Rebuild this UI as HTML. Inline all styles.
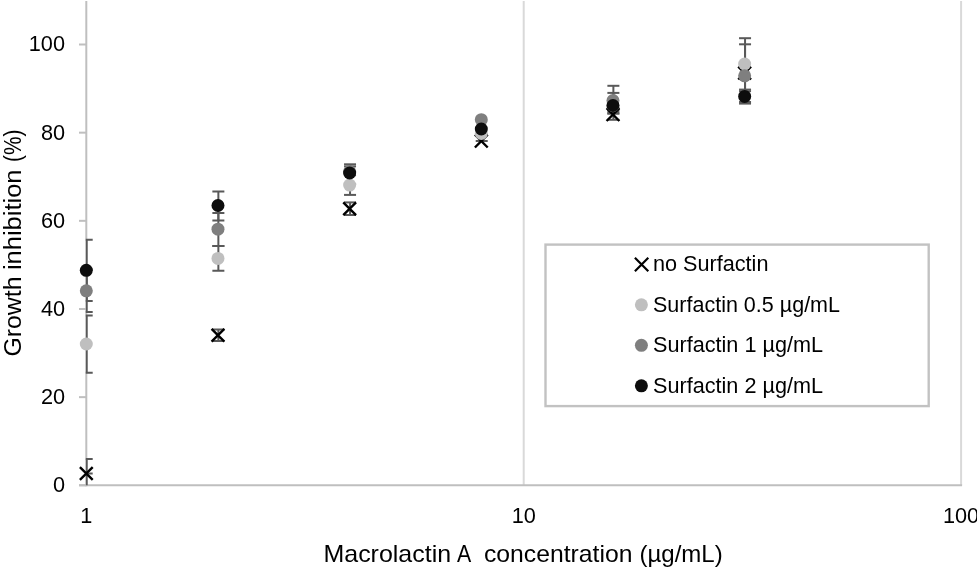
<!DOCTYPE html><html><head><meta charset="utf-8"><style>html,body{margin:0;padding:0;background:#fff;}svg{display:block;will-change:transform;}text{font-family:"Liberation Sans", sans-serif;fill:#000;}</style></head><body>
<svg width="977" height="570" viewBox="0 0 977 570">
<rect width="977" height="570" fill="#fff"/>
<defs><clipPath id="pa"><rect x="85.8" y="0" width="880" height="485.3"/></clipPath></defs>
<line x1="523.70" y1="1" x2="523.70" y2="485.3" stroke="#d9d9d9" stroke-width="2"/>
<line x1="961.10" y1="1" x2="961.10" y2="485.3" stroke="#d9d9d9" stroke-width="2"/>
<line x1="86.3" y1="1" x2="86.3" y2="486.3" stroke="#bfbfbf" stroke-width="2"/>
<line x1="79" y1="485.3" x2="962.10" y2="485.3" stroke="#bfbfbf" stroke-width="2"/>
<line x1="79" y1="485.30" x2="86.3" y2="485.30" stroke="#bfbfbf" stroke-width="2"/>
<line x1="79" y1="397.14" x2="86.3" y2="397.14" stroke="#bfbfbf" stroke-width="2"/>
<line x1="79" y1="308.98" x2="86.3" y2="308.98" stroke="#bfbfbf" stroke-width="2"/>
<line x1="79" y1="220.82" x2="86.3" y2="220.82" stroke="#bfbfbf" stroke-width="2"/>
<line x1="79" y1="132.66" x2="86.3" y2="132.66" stroke="#bfbfbf" stroke-width="2"/>
<line x1="79" y1="44.50" x2="86.3" y2="44.50" stroke="#bfbfbf" stroke-width="2"/>
<text x="65" y="492" font-size="21.7" text-anchor="end">0</text>
<text x="65" y="404" font-size="21.7" text-anchor="end">20</text>
<text x="65" y="316" font-size="21.7" text-anchor="end">40</text>
<text x="65" y="228" font-size="21.7" text-anchor="end">60</text>
<text x="65" y="140" font-size="21.7" text-anchor="end">80</text>
<text x="65" y="51" font-size="21.7" text-anchor="end">100</text>
<text x="86.30" y="523" font-size="21.7" text-anchor="middle">1</text>
<text x="523.70" y="523" font-size="21.7" text-anchor="middle">10</text>
<text x="961.10" y="523" font-size="21.7" text-anchor="middle">100</text>
<text x="323.45" y="561.9" font-size="23.4" textLength="127.69" lengthAdjust="spacingAndGlyphs">Macrolactin</text>
<text x="456.98" y="561.9" font-size="23.4" textLength="14.23" lengthAdjust="spacingAndGlyphs">A</text>
<text x="483.98" y="561.9" font-size="23.4" textLength="148.44" lengthAdjust="spacingAndGlyphs">concentration</text>
<text x="639.45" y="561.9" font-size="23.4" textLength="83.29" lengthAdjust="spacingAndGlyphs">(µg/mL)</text>
<text transform="translate(21.3,356.61) rotate(-90)" font-size="24.8" textLength="80.21" lengthAdjust="spacingAndGlyphs">Growth</text>
<text transform="translate(21.3,270.12) rotate(-90)" font-size="24.8" textLength="100.65" lengthAdjust="spacingAndGlyphs">inhibition</text>
<text transform="translate(21.3,161.88) rotate(-90)" font-size="24.8" textLength="32.38" lengthAdjust="spacingAndGlyphs">(%)</text>
<g clip-path="url(#pa)">
<line x1="86.70" y1="459.0" x2="86.70" y2="486" stroke="#595959" stroke-width="2"/>
<line x1="80.70" y1="459.0" x2="92.70" y2="459.0" stroke="#595959" stroke-width="2"/>
<line x1="80.70" y1="473.5" x2="92.70" y2="473.5" stroke="#595959" stroke-width="2"/>
<line x1="86.70" y1="315.6" x2="86.70" y2="372.8" stroke="#595959" stroke-width="2"/>
<line x1="80.70" y1="315.6" x2="92.70" y2="315.6" stroke="#595959" stroke-width="2"/>
<line x1="80.70" y1="372.8" x2="92.70" y2="372.8" stroke="#595959" stroke-width="2"/>
<line x1="86.70" y1="269.5" x2="86.70" y2="312.1" stroke="#595959" stroke-width="2"/>
<line x1="80.70" y1="269.5" x2="92.70" y2="269.5" stroke="#595959" stroke-width="2"/>
<line x1="80.70" y1="312.1" x2="92.70" y2="312.1" stroke="#595959" stroke-width="2"/>
<line x1="86.70" y1="239.8" x2="86.70" y2="300.9" stroke="#595959" stroke-width="2"/>
<line x1="80.70" y1="239.8" x2="92.70" y2="239.8" stroke="#595959" stroke-width="2"/>
<line x1="80.70" y1="300.9" x2="92.70" y2="300.9" stroke="#595959" stroke-width="2"/>
<line x1="218.37" y1="329.6" x2="218.37" y2="340.9" stroke="#595959" stroke-width="2"/>
<line x1="212.37" y1="329.6" x2="224.37" y2="329.6" stroke="#595959" stroke-width="2"/>
<line x1="212.37" y1="340.9" x2="224.37" y2="340.9" stroke="#595959" stroke-width="2"/>
<line x1="218.37" y1="246.0" x2="218.37" y2="270.8" stroke="#595959" stroke-width="2"/>
<line x1="212.37" y1="246.0" x2="224.37" y2="246.0" stroke="#595959" stroke-width="2"/>
<line x1="212.37" y1="270.8" x2="224.37" y2="270.8" stroke="#595959" stroke-width="2"/>
<line x1="218.37" y1="212.9" x2="218.37" y2="246.0" stroke="#595959" stroke-width="2"/>
<line x1="212.37" y1="212.9" x2="224.37" y2="212.9" stroke="#595959" stroke-width="2"/>
<line x1="212.37" y1="246.0" x2="224.37" y2="246.0" stroke="#595959" stroke-width="2"/>
<line x1="218.37" y1="191.4" x2="218.37" y2="220.6" stroke="#595959" stroke-width="2"/>
<line x1="212.37" y1="191.4" x2="224.37" y2="191.4" stroke="#595959" stroke-width="2"/>
<line x1="212.37" y1="220.6" x2="224.37" y2="220.6" stroke="#595959" stroke-width="2"/>
<line x1="350.04" y1="202.4" x2="350.04" y2="215.0" stroke="#595959" stroke-width="2"/>
<line x1="344.04" y1="202.4" x2="356.04" y2="202.4" stroke="#595959" stroke-width="2"/>
<line x1="344.04" y1="215.0" x2="356.04" y2="215.0" stroke="#595959" stroke-width="2"/>
<line x1="350.04" y1="175.3" x2="350.04" y2="194.9" stroke="#595959" stroke-width="2"/>
<line x1="344.04" y1="175.3" x2="356.04" y2="175.3" stroke="#595959" stroke-width="2"/>
<line x1="344.04" y1="194.9" x2="356.04" y2="194.9" stroke="#595959" stroke-width="2"/>
<line x1="350.04" y1="164.3" x2="350.04" y2="183.0" stroke="#595959" stroke-width="2"/>
<line x1="344.04" y1="164.3" x2="356.04" y2="164.3" stroke="#595959" stroke-width="2"/>
<line x1="344.04" y1="184.2" x2="356.04" y2="184.2" stroke="#595959" stroke-width="2"/>
<line x1="350.04" y1="166.4" x2="350.04" y2="183.0" stroke="#595959" stroke-width="2"/>
<line x1="344.04" y1="166.4" x2="356.04" y2="166.4" stroke="#595959" stroke-width="2"/>
<line x1="344.04" y1="184.2" x2="356.04" y2="184.2" stroke="#595959" stroke-width="2"/>
<line x1="481.71" y1="140.0" x2="481.71" y2="142.0" stroke="#595959" stroke-width="2"/>
<line x1="475.71" y1="141.0" x2="487.71" y2="141.0" stroke="#595959" stroke-width="2"/>
<line x1="481.71" y1="128.0" x2="481.71" y2="135.0" stroke="#595959" stroke-width="2"/>
<line x1="475.71" y1="134.8" x2="487.71" y2="134.8" stroke="#595959" stroke-width="2"/>
<line x1="613.38" y1="109.4" x2="613.38" y2="119.8" stroke="#595959" stroke-width="2"/>
<line x1="607.38" y1="109.4" x2="619.38" y2="109.4" stroke="#595959" stroke-width="2"/>
<line x1="607.38" y1="119.8" x2="619.38" y2="119.8" stroke="#595959" stroke-width="2"/>
<line x1="613.38" y1="85.8" x2="613.38" y2="113.5" stroke="#595959" stroke-width="2"/>
<line x1="607.38" y1="85.8" x2="619.38" y2="85.8" stroke="#595959" stroke-width="2"/>
<line x1="607.38" y1="113.5" x2="619.38" y2="113.5" stroke="#595959" stroke-width="2"/>
<line x1="613.38" y1="92.9" x2="613.38" y2="107.0" stroke="#595959" stroke-width="2"/>
<line x1="607.38" y1="92.9" x2="619.38" y2="92.9" stroke="#595959" stroke-width="2"/>
<line x1="745.05" y1="38.2" x2="745.05" y2="89.6" stroke="#595959" stroke-width="2"/>
<line x1="739.05" y1="38.2" x2="751.05" y2="38.2" stroke="#595959" stroke-width="2"/>
<line x1="739.05" y1="89.6" x2="751.05" y2="89.6" stroke="#595959" stroke-width="2"/>
<line x1="739.05" y1="91.2" x2="751.05" y2="91.2" stroke="#595959" stroke-width="2"/>
<line x1="745.05" y1="44.3" x2="745.05" y2="103.6" stroke="#595959" stroke-width="2"/>
<line x1="739.05" y1="44.3" x2="751.05" y2="44.3" stroke="#595959" stroke-width="2"/>
<line x1="739.05" y1="102.0" x2="751.05" y2="102.0" stroke="#595959" stroke-width="2"/>
<line x1="739.05" y1="103.6" x2="751.05" y2="103.6" stroke="#595959" stroke-width="2"/>
<rect x="607.38" y="107" width="12" height="7.5" fill="#595959"/>
</g>
<path d="M79.90 467.10L92.70 479.90M92.70 467.10L79.90 479.90" stroke="#000" stroke-width="2.4" fill="none"/>
<path d="M211.57 328.85L224.37 341.65M224.37 328.85L211.57 341.65" stroke="#000" stroke-width="2.4" fill="none"/>
<path d="M343.24 202.40L356.04 215.20M356.04 202.40L343.24 215.20" stroke="#000" stroke-width="2.4" fill="none"/>
<path d="M474.91 134.70L487.71 147.50M487.71 134.70L474.91 147.50" stroke="#000" stroke-width="2.4" fill="none"/>
<path d="M606.58 108.20L619.38 121.00M619.38 108.20L606.58 121.00" stroke="#000" stroke-width="2.4" fill="none"/>
<path d="M738.25 66.70L751.05 79.50M751.05 66.70L738.25 79.50" stroke="#000" stroke-width="2.4" fill="none"/>
<circle cx="86.30" cy="344.0" r="6.5" fill="#bfbfbf"/>
<circle cx="217.97" cy="258.4" r="6.5" fill="#bfbfbf"/>
<circle cx="349.64" cy="185.1" r="6.5" fill="#bfbfbf"/>
<circle cx="481.31" cy="133.4" r="6.5" fill="#bfbfbf"/>
<circle cx="612.98" cy="105.5" r="6.5" fill="#bfbfbf"/>
<circle cx="744.65" cy="64.0" r="6.5" fill="#bfbfbf"/>
<circle cx="86.30" cy="290.8" r="6.5" fill="#7f7f7f"/>
<circle cx="217.97" cy="229.2" r="6.5" fill="#7f7f7f"/>
<circle cx="349.64" cy="171.5" r="6.5" fill="#7f7f7f"/>
<circle cx="481.31" cy="119.7" r="6.5" fill="#7f7f7f"/>
<circle cx="612.98" cy="100.5" r="6.5" fill="#7f7f7f"/>
<circle cx="744.65" cy="75.8" r="6.5" fill="#7f7f7f"/>
<circle cx="86.30" cy="270.3" r="6.5" fill="#0d0d0d"/>
<circle cx="217.97" cy="205.5" r="6.5" fill="#0d0d0d"/>
<circle cx="349.64" cy="173.0" r="6.5" fill="#0d0d0d"/>
<circle cx="481.31" cy="129.0" r="6.5" fill="#0d0d0d"/>
<circle cx="612.98" cy="105.5" r="6.5" fill="#0d0d0d"/>
<circle cx="744.65" cy="96.4" r="6.5" fill="#0d0d0d"/>
<rect x="545.5" y="244.6" width="383.2" height="161.5" fill="#fff" stroke="#c2c2c2" stroke-width="2.4"/>
<path d="M634.90 257.80L648.30 271.20M648.30 257.80L634.90 271.20" stroke="#000" stroke-width="2.2" fill="none"/>
<circle cx="641.4" cy="304.8" r="6.5" fill="#bfbfbf"/>
<circle cx="641.4" cy="345.3" r="6.5" fill="#7f7f7f"/>
<circle cx="641.4" cy="385.8" r="6.5" fill="#0d0d0d"/>
<text x="652.96" y="271" font-size="21.6" textLength="115.48" lengthAdjust="spacingAndGlyphs">no Surfactin</text>
<text x="652.99" y="312" font-size="21.6" textLength="187.02" lengthAdjust="spacingAndGlyphs">Surfactin 0.5 µg/mL</text>
<text x="652.99" y="352" font-size="21.6" textLength="170.03" lengthAdjust="spacingAndGlyphs">Surfactin 1 µg/mL</text>
<text x="652.99" y="393" font-size="21.6" textLength="170.03" lengthAdjust="spacingAndGlyphs">Surfactin 2 µg/mL</text>
</svg></body></html>
